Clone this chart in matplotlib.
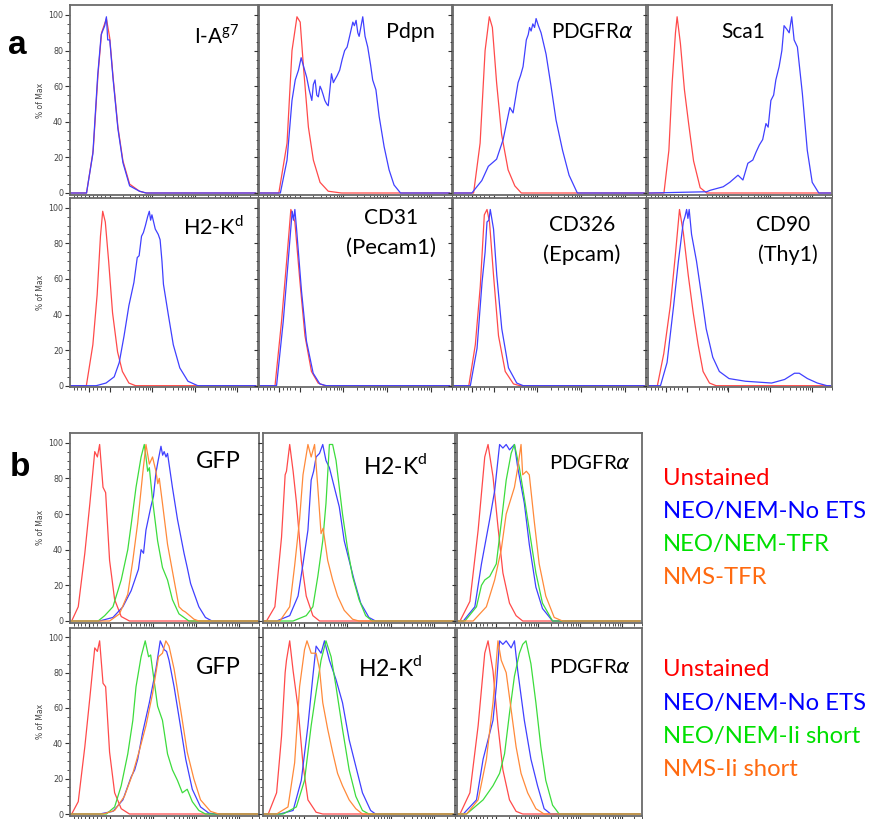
import numpy as np
import matplotlib
matplotlib.use('Agg')
import matplotlib.pyplot as plt

W, H = 872, 819
RED, BLUE, GREEN, ORANGE = '#ff4a4a', '#4040ff', '#3ddc3d', '#ff8a3a'
LAB_FONT = ['Lato', 'DejaVu Sans']

# ---- panel a curves: (position as fraction of axis width, % of max) ----
iag7_uns = [(0.089, 0), (0.125, 24), (0.151, 67), (0.17, 90), (0.196, 98), (0.214, 87),
            (0.232, 65), (0.258, 37), (0.285, 18), (0.321, 5), (0.374, 1), (0.41, 0)]
iag7_stn = [(0.089, 0), (0.123, 22), (0.149, 66), (0.168, 89), (0.187, 94), (0.196, 99),
            (0.203, 86), (0.214, 86), (0.232, 64), (0.258, 36), (0.285, 17), (0.321, 4), (0.374, 1), (0.41, 0)]
pdpn_uns = [(0.104, 0), (0.147, 28), (0.173, 80), (0.199, 99), (0.216, 96), (0.233, 71),
            (0.259, 37), (0.285, 18.5), (0.320, 6), (0.363, 1), (0.432, 0)]
pdpn_stn = [(0.112, 0), (0.147, 18.5), (0.173, 52), (0.190, 63.5), (0.207, 69), (0.221, 76),
            (0.234, 71), (0.25, 65), (0.263, 58), (0.277, 52), (0.285, 61), (0.294, 63.5), (0.303, 55),
            (0.311, 54), (0.320, 60), (0.328, 58), (0.337, 55), (0.345, 52), (0.355, 50), (0.363, 49),
            (0.38, 67), (0.39, 62), (0.397, 63.5), (0.41, 66), (0.423, 69), (0.436, 75), (0.449, 80),
            (0.462, 82), (0.475, 88), (0.492, 96), (0.500, 94), (0.509, 97), (0.518, 90), (0.525, 88),
            (0.532, 92), (0.544, 99), (0.556, 88), (0.570, 82), (0.585, 72), (0.596, 63.5), (0.613, 58),
            (0.63, 43), (0.656, 26), (0.682, 13), (0.708, 4.5), (0.742, 0)]
pdgfr_uns = [(0.110, 0), (0.144, 28), (0.170, 80), (0.192, 99), (0.208, 93), (0.230, 62),
             (0.256, 33), (0.290, 13), (0.325, 4), (0.359, 0)]
pdgfr_stn = [(0.101, 0), (0.153, 7), (0.187, 15), (0.230, 19), (0.264, 30), (0.299, 48), (0.316, 45),
             (0.342, 62), (0.355, 66), (0.368, 71), (0.385, 86), (0.395, 89), (0.402, 93), (0.41, 91),
             (0.419, 95), (0.428, 93), (0.436, 98), (0.448, 94), (0.462, 90), (0.488, 78), (0.514, 60),
             (0.540, 41), (0.574, 24), (0.608, 10), (0.651, 0)]
sca1_uns = [(0.090, 0), (0.117, 24), (0.135, 62), (0.153, 90), (0.162, 99), (0.180, 84),
            (0.202, 58), (0.225, 39), (0.252, 18), (0.288, 3), (0.324, 0)]
sca1_stn = [(0.018, 0), (0.234, 0.5), (0.324, 0.7), (0.342, 1.5), (0.414, 3.5), (0.450, 6),
            (0.495, 10), (0.522, 7.3), (0.549, 16.7), (0.576, 18.5), (0.594, 23), (0.612, 27),
            (0.63, 30), (0.648, 39), (0.66, 37), (0.675, 52), (0.690, 55), (0.702, 63.5), (0.72, 71),
            (0.735, 80), (0.747, 94), (0.762, 92), (0.775, 90), (0.789, 99), (0.802, 86), (0.82, 82),
            (0.847, 56), (0.874, 24), (0.901, 6), (0.937, 0)]
h2kd_uns = [(0.088, 0), (0.123, 23), (0.146, 51), (0.164, 84), (0.176, 98), (0.190, 92),
            (0.208, 70), (0.229, 41), (0.256, 19), (0.282, 8), (0.317, 1.5), (0.353, 0)]
h2kd_stn = [(0.141, 0), (0.194, 1.5), (0.238, 5), (0.265, 13), (0.291, 28), (0.317, 45), (0.344, 58),
            (0.362, 72), (0.372, 73), (0.385, 84), (0.395, 86), (0.406, 90), (0.418, 95), (0.427, 98),
            (0.434, 93), (0.441, 96), (0.459, 88), (0.475, 85), (0.485, 82), (0.495, 70), (0.503, 57),
            (0.529, 40), (0.556, 23), (0.591, 10), (0.635, 2.5), (0.688, 0)]
cd31_uns = [(0.084, 0), (0.118, 36), (0.145, 70), (0.167, 99), (0.188, 92), (0.215, 58),
            (0.241, 28), (0.275, 8), (0.31, 1.5), (0.345, 0)]
cd31_stn = [(0.092, 0), (0.127, 36), (0.153, 70), (0.174, 98), (0.181, 93), (0.188, 99), (0.197, 88),
            (0.223, 53), (0.249, 25), (0.284, 7), (0.319, 1), (0.354, 0)]
cd326_uns = [(0.085, 0), (0.119, 23), (0.145, 56), (0.166, 96), (0.180, 99), (0.193, 92),
             (0.214, 62), (0.240, 28), (0.275, 8), (0.318, 1), (0.352, 0)]
cd326_stn = [(0.093, 0), (0.128, 21), (0.154, 58), (0.170, 75), (0.180, 92), (0.190, 93), (0.197, 99),
             (0.214, 88), (0.231, 62), (0.257, 32), (0.292, 10), (0.335, 1.5), (0.369, 0)]
cd90_uns = [(0.054, 0), (0.089, 18), (0.125, 45), (0.152, 73), (0.175, 99), (0.196, 86),
            (0.223, 62), (0.250, 41), (0.277, 23), (0.304, 8), (0.339, 1.5), (0.375, 0)]
cd90_stn = [(0.071, 0), (0.107, 13), (0.143, 45), (0.169, 70), (0.196, 92), (0.205, 95), (0.214, 99),
            (0.221, 94), (0.228, 99), (0.241, 85), (0.268, 70), (0.295, 51), (0.321, 32), (0.357, 16),
            (0.393, 8), (0.446, 4), (0.536, 2.5), (0.679, 1.5), (0.750, 3.5), (0.804, 7), (0.830, 7),
            (0.875, 4), (0.929, 1.5), (0.982, 0)]

# ---- panel b curves ----
gfp1_uns = [(0.009, 0), (0.044, 8), (0.079, 38), (0.106, 66), (0.132, 95), (0.146, 92), (0.158, 99),
            (0.176, 75), (0.190, 72), (0.211, 34), (0.238, 12), (0.273, 2.5), (0.317, 0)]
gfp1_neo = [(0.158, 0), (0.229, 2), (0.282, 8), (0.326, 17), (0.352, 25), (0.365, 29), (0.379, 40),
            (0.392, 38), (0.405, 51), (0.431, 64), (0.445, 70), (0.458, 83), (0.470, 90), (0.485, 98),
            (0.494, 93), (0.502, 95), (0.512, 92), (0.520, 94), (0.546, 75), (0.573, 57), (0.608, 38),
            (0.625, 30), (0.643, 21), (0.687, 8), (0.722, 2), (0.757, 0)]
gfp1_tfr = [(0.150, 0), (0.185, 3), (0.229, 8), (0.273, 23), (0.308, 40), (0.326, 54), (0.352, 75),
            (0.379, 92), (0.396, 99), (0.405, 92), (0.414, 84), (0.423, 86), (0.440, 68), (0.467, 45),
            (0.493, 30), (0.520, 23), (0.546, 12), (0.581, 4), (0.634, 0)]
gfp1_nms = [(0.211, 0), (0.264, 4), (0.308, 15), (0.335, 34), (0.361, 55), (0.388, 83), (0.405, 99),
            (0.423, 88), (0.440, 92), (0.458, 84), (0.468, 77), (0.476, 80), (0.493, 66), (0.520, 43),
            (0.546, 28), (0.581, 8), (0.600, 6), (0.616, 5), (0.661, 1), (0.687, 0)]
h2k1_uns = [(0.017, 0), (0.061, 8), (0.096, 47), (0.115, 82), (0.122, 84), (0.139, 99), (0.157, 84),
            (0.174, 67), (0.200, 34), (0.226, 14), (0.261, 3), (0.296, 0)]
h2k1_neo = [(0.070, 0), (0.139, 3), (0.183, 14), (0.209, 32), (0.235, 51), (0.252, 79), (0.265, 84),
            (0.278, 92), (0.296, 94), (0.313, 99), (0.330, 90), (0.348, 86), (0.374, 75), (0.400, 64),
            (0.426, 45), (0.452, 34), (0.478, 23), (0.513, 10), (0.556, 2), (0.591, 0)]
h2k1_tfr = [(0.157, 0), (0.226, 3), (0.261, 8), (0.287, 25), (0.313, 45), (0.330, 66), (0.348, 99),
            (0.365, 99), (0.383, 90), (0.400, 75), (0.417, 60), (0.443, 41), (0.470, 25), (0.504, 12),
            (0.539, 3), (0.574, 0)]
h2k1_nms = [(0.087, 0), (0.139, 8), (0.165, 31), (0.191, 57), (0.209, 82), (0.235, 99), (0.252, 92),
            (0.270, 99), (0.287, 75), (0.304, 49), (0.315, 52), (0.339, 34), (0.365, 23), (0.391, 14),
            (0.426, 6), (0.470, 1), (0.504, 0)]
pdg1_uns = [(0.018, 0), (0.072, 11), (0.117, 51), (0.153, 92), (0.171, 99), (0.198, 81),
            (0.225, 53), (0.252, 27), (0.288, 10), (0.324, 3), (0.360, 0)]
pdg1_neo = [(0.036, 0), (0.099, 8), (0.135, 32), (0.180, 57), (0.207, 73), (0.234, 99), (0.252, 97),
            (0.270, 99), (0.288, 96), (0.315, 99), (0.333, 86), (0.369, 66), (0.396, 43), (0.432, 19),
            (0.468, 7), (0.523, 0)]
pdg1_tfr = [(0.045, 0), (0.108, 8), (0.135, 20), (0.153, 23), (0.180, 25), (0.216, 32), (0.243, 55),
            (0.270, 79), (0.297, 94), (0.315, 99), (0.342, 86), (0.369, 69), (0.396, 51), (0.432, 27),
            (0.468, 10), (0.523, 0)]
pdg1_nms = [(0.090, 0), (0.162, 8), (0.207, 23), (0.243, 40), (0.270, 60), (0.315, 75), (0.333, 86),
            (0.351, 99), (0.360, 82), (0.380, 84), (0.396, 82), (0.423, 56), (0.450, 32), (0.486, 14),
            (0.532, 2), (0.577, 0)]
gfp2_uns = [(0.009, 0), (0.044, 7), (0.079, 38), (0.106, 66), (0.132, 94), (0.146, 92), (0.158, 98),
            (0.176, 74), (0.190, 72), (0.211, 35), (0.238, 12), (0.273, 3), (0.317, 0)]
gfp2_neo = [(0.158, 0), (0.229, 1.5), (0.282, 8), (0.326, 21), (0.345, 25), (0.361, 31), (0.387, 46),
            (0.423, 63), (0.458, 82), (0.481, 98), (0.502, 93), (0.515, 92), (0.528, 87), (0.555, 72),
            (0.590, 49), (0.617, 31), (0.652, 14), (0.696, 4), (0.740, 0.5), (0.775, 0)]
gfp2_ii = [(0.194, 0), (0.238, 4), (0.273, 16), (0.308, 34), (0.335, 53), (0.352, 72), (0.379, 89),
           (0.401, 98), (0.419, 89), (0.430, 90), (0.440, 82), (0.467, 61), (0.493, 53), (0.520, 34),
           (0.546, 25), (0.573, 19), (0.599, 12), (0.625, 14), (0.652, 7), (0.687, 2), (0.722, 0)]
gfp2_nms = [(0.176, 0), (0.238, 2), (0.290, 10), (0.335, 23), (0.370, 36), (0.405, 50), (0.440, 68),
            (0.472, 89), (0.493, 91), (0.511, 98), (0.528, 95), (0.555, 82), (0.590, 59), (0.625, 35),
            (0.660, 20), (0.696, 8), (0.749, 1.5), (0.793, 0)]
h2k2_uns = [(0.026, 0), (0.070, 12), (0.096, 44), (0.115, 80), (0.122, 87), (0.139, 98), (0.157, 81),
            (0.183, 60), (0.209, 28), (0.235, 8), (0.278, 1), (0.313, 0)]
h2k2_neo = [(0.087, 0), (0.157, 2), (0.200, 19), (0.235, 50), (0.261, 78), (0.278, 95), (0.304, 91),
            (0.322, 98), (0.348, 87), (0.383, 76), (0.417, 63), (0.452, 42), (0.487, 27), (0.522, 12),
            (0.565, 2), (0.591, 0)]
h2k2_ii = [(0.104, 0), (0.174, 4), (0.217, 19), (0.252, 50), (0.278, 69), (0.304, 87), (0.330, 98),
           (0.357, 89), (0.383, 72), (0.417, 48), (0.452, 25), (0.487, 10), (0.522, 2), (0.556, 0)]
h2k2_nms = [(0.070, 0), (0.130, 4), (0.165, 29), (0.191, 72), (0.217, 93), (0.230, 98), (0.252, 91),
            (0.278, 91), (0.296, 82), (0.313, 63), (0.339, 48), (0.365, 35), (0.391, 23), (0.417, 16),
            (0.452, 8), (0.487, 3), (0.522, 0)]
pdg2_uns = [(0.018, 0), (0.072, 12), (0.117, 50), (0.153, 91), (0.171, 98), (0.198, 81),
            (0.225, 50), (0.252, 25), (0.288, 8), (0.324, 1.5), (0.360, 0)]
pdg2_neo = [(0.036, 0), (0.108, 8), (0.144, 31), (0.198, 53), (0.216, 72), (0.234, 98), (0.252, 96),
            (0.270, 98), (0.297, 94), (0.315, 98), (0.333, 81), (0.369, 53), (0.405, 31), (0.441, 16),
            (0.477, 3), (0.513, 0)]
pdg2_ii = [(0.054, 0), (0.144, 8), (0.198, 16), (0.234, 23), (0.261, 34), (0.288, 57), (0.315, 78),
           (0.342, 91), (0.360, 96), (0.378, 98), (0.405, 85), (0.432, 63), (0.459, 38), (0.486, 19),
           (0.523, 5), (0.559, 0)]
pdg2_nms = [(0.054, 0), (0.117, 8), (0.162, 31), (0.198, 63), (0.225, 98), (0.243, 87), (0.270, 80),
            (0.297, 59), (0.324, 38), (0.351, 23), (0.387, 12), (0.432, 3), (0.477, 0)]

legend_top = ['Unstained', 'NEO/NEM-No ETS', 'NEO/NEM-TFR', 'NMS-TFR']
legend_bot = ['Unstained', 'NEO/NEM-No ETS', 'NEO/NEM-Ii short', 'NMS-Ii short']
legend_colors = ['#ff0000', '#0000ff', '#00e000', '#ff6a10']

YLO, YHI = -1.0, 105.5
fig = plt.figure(figsize=(W / 100, H / 100), dpi=100)
fig.patch.set_facecolor('white')


def fx(x):
    return x / W


def fy(y):
    return 1 - y / H


def make_ax(x0, x1, y100, y0, first_col):
    ppu = (y0 - y100) / 100.0
    top = y100 - (YHI - 100) * ppu
    bot = y0 - YLO * ppu
    ax = fig.add_axes([x0 / W, 1 - bot / H, (x1 - x0) / W, (bot - top) / H])
    ax.set_xlim(0, 1)
    ax.set_ylim(YLO, YHI)
    for s in ax.spines.values():
        s.set_color('#6a6a6a')
        s.set_linewidth(1.3)
    ax.set_yticks(np.arange(0, 101, 20))
    ax.set_yticks(np.arange(0, 101, 5), minor=True)
    # logicle-like decade ticks
    dec = 0.229
    majors = [0.103, 0.214, 0.443, 0.672, 0.900]
    minors = [0.02, 0.04, 0.06, 0.08, 0.125, 0.145, 0.165, 0.19]
    for st in majors[1:4]:
        minors += [st + dec * np.log10(k) for k in range(2, 10)]
    minors += [0.9 + dec * np.log10(k) for k in (2, 3)]
    ax.set_xticks(majors)
    ax.set_xticks(minors, minor=True)
    ax.set_xticklabels([])
    ax.tick_params(which='major', direction='out', length=3.5, width=0.8, color='#333')
    ax.tick_params(which='minor', direction='out', length=2, width=0.6, color='#333')
    if first_col:
        ax.tick_params(axis='y', labelsize=5.8, labelcolor='#444', pad=1.5)
        ax.set_ylabel('% of Max', fontsize=5.5, color='#444', labelpad=2)
    else:
        ax.set_yticklabels([])
    return ax


def draw(ax, curves):
    for pts, col in curves:
        xs = [0.0] + [p[0] for p in pts] + [1.0]
        ys = [0.0] + [p[1] for p in pts] + [0.0]
        ax.plot(xs, ys, color=col, lw=0.9, solid_joinstyle='round')


# ---- panel a ----
cols_a = [(70, 257.5), (259, 451.5), (452.5, 646), (647.5, 832)]
rows_a = [(15, 193), (207.7, 385.7)]
panels_a = [
    [[(iag7_uns, RED), (iag7_stn, BLUE)], [(pdpn_uns, RED), (pdpn_stn, BLUE)],
     [(pdgfr_uns, RED), (pdgfr_stn, BLUE)], [(sca1_uns, RED), (sca1_stn, BLUE)]],
    [[(h2kd_uns, RED), (h2kd_stn, BLUE)], [(cd31_uns, RED), (cd31_stn, BLUE)],
     [(cd326_uns, RED), (cd326_stn, BLUE)], [(cd90_uns, RED), (cd90_stn, BLUE)]],
]
for r, (y100, y0) in enumerate(rows_a):
    for c, (x0, x1) in enumerate(cols_a):
        ax = make_ax(x0, x1, y100, y0, c == 0)
        draw(ax, panels_a[r][c])

# ---- panel b ----
cols_b = [(70, 259.3), (263.3, 455), (456.7, 641.7)]
rows_b = [(442.7, 621), (637.3, 814)]
panels_b = [
    [[(gfp1_uns, RED), (gfp1_neo, BLUE), (gfp1_tfr, GREEN), (gfp1_nms, ORANGE)],
     [(h2k1_uns, RED), (h2k1_neo, BLUE), (h2k1_tfr, GREEN), (h2k1_nms, ORANGE)],
     [(pdg1_uns, RED), (pdg1_neo, BLUE), (pdg1_tfr, GREEN), (pdg1_nms, ORANGE)]],
    [[(gfp2_uns, RED), (gfp2_neo, BLUE), (gfp2_ii, GREEN), (gfp2_nms, ORANGE)],
     [(h2k2_uns, RED), (h2k2_neo, BLUE), (h2k2_ii, GREEN), (h2k2_nms, ORANGE)],
     [(pdg2_uns, RED), (pdg2_neo, BLUE), (pdg2_ii, GREEN), (pdg2_nms, ORANGE)]],
]
for r, (y100, y0) in enumerate(rows_b):
    for c, (x0, x1) in enumerate(cols_b):
        ax = make_ax(x0, x1, y100, y0, c == 0)
        draw(ax, panels_b[r][c])

# ---- marker labels ----
def label(x, y, s, size=15, ha='center'):
    fig.text(fx(x), fy(y), s, ha=ha, va='center', fontsize=size, family=LAB_FONT, color='black')


label(217, 36, 'I-A$^{\\mathregular{g7}}$')
label(410, 32, 'Pdpn', 15.5)
label(592, 32, 'PDGFR$\\alpha$', 14.8)
label(743, 32, 'Sca1', 15)
label(213, 227, 'H2-K$^{\\mathregular{d}}$', 15.5)
label(391, 218, 'CD31')
label(391, 248, '(Pecam1)', 16)
label(582, 225, 'CD326')
label(582, 255, '(Epcam)', 16)
label(783, 225, 'CD90')
label(788, 255, '(Thy1)', 15.5)

label(218, 462, 'GFP', 17)
label(395, 465, 'H2-K$^{\\mathregular{d}}$', 16.5)
label(590, 463, 'PDGFR$\\alpha$', 14.7)
label(218, 667, 'GFP', 17)
label(390, 668, 'H2-K$^{\\mathregular{d}}$', 16.5)
label(590, 667, 'PDGFR$\\alpha$', 14.7)

fig.text(fx(17), fy(45), 'a', ha='center', va='center', fontsize=24, fontweight='bold',
         family=['Liberation Sans', 'DejaVu Sans'])
fig.text(fx(20), fy(468), 'b', ha='center', va='center', fontsize=24, fontweight='bold',
         family=['Liberation Sans', 'DejaVu Sans'])

# ---- legends ----
for i, (t, col) in enumerate(zip(legend_top, legend_colors)):
    fig.text(fx(663), fy(478 + 33.3 * i), t, ha='left', va='center', fontsize=17.2,
             family=LAB_FONT, color=col)
for i, (t, col) in enumerate(zip(legend_bot, legend_colors)):
    fig.text(fx(663), fy(670 + 33.3 * i), t, ha='left', va='center', fontsize=17.2,
             family=LAB_FONT, color=col)

fig.savefig('out.png', dpi=100, facecolor='white')
